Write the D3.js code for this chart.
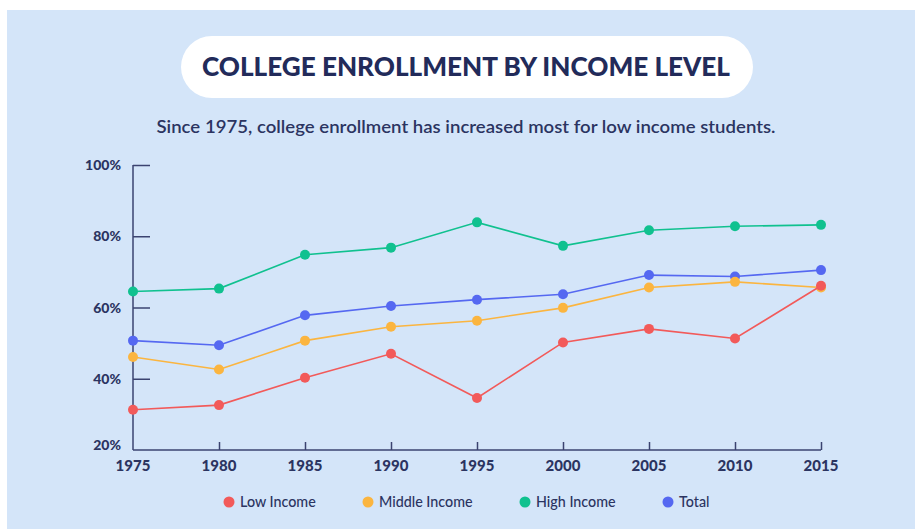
<!DOCTYPE html>
<html>
<head>
<meta charset="utf-8">
<script src="https://cdn.jsdelivr.net/npm/d3@7"></script>
<style>
  html, body { margin: 0; padding: 0; background: #ffffff; }
  svg { display: block; }
</style>
</head>
<body>
<div id="chart"></div>
<script>
// data
const years = [1975, 1980, 1985, 1990, 1995, 2000, 2005, 2010, 2015];
const lowIncome = [31.3, 32.6, 40.3, 47.0, 34.6, 50.2, 54.0, 51.3, 66.1];
const middleIncome = [46.1, 42.6, 50.7, 54.6, 56.3, 59.9, 65.6, 67.2, 65.6];
const highIncome = [64.5, 65.3, 74.8, 76.8, 83.9, 77.3, 81.7, 82.8, 83.2];
const total = [50.7, 49.4, 57.8, 60.4, 62.2, 63.7, 69.1, 68.7, 70.5];
const seriesNames = ["Low Income", "Middle Income", "High Income", "Total"];
const yTicks = [20, 40, 60, 80, 100];

const seriesColors = ["#f25a5a", "#fbb540", "#10c18f", "#5568f1"];
const navy = "#222b5a";

const W = 915, H = 529;
const svg = d3.select("#chart").append("svg")
    .attr("width", W)
    .attr("height", H);

// background panel
svg.append("rect")
    .attr("x", 7).attr("y", 10)
    .attr("width", W - 7).attr("height", H - 10)
    .attr("fill", "#d4e5f9");

// title pill
svg.append("rect")
    .attr("x", 181).attr("y", 36)
    .attr("width", 572).attr("height", 62)
    .attr("rx", 31).attr("ry", 31)
    .attr("fill", "#ffffff");

svg.append("text")
    .attr("x", 466).attr("y", 76)
    .attr("text-anchor", "middle")
    .attr("font-family", "Lato, sans-serif")
    .attr("font-weight", 900)
    .attr("font-size", 27)
    .attr("fill", navy)
    .attr("textLength", 528)
    .attr("lengthAdjust", "spacingAndGlyphs")
    .text("COLLEGE ENROLLMENT BY INCOME LEVEL");

svg.append("text")
    .attr("x", 466).attr("y", 133)
    .attr("text-anchor", "middle")
    .attr("font-family", "Lato, sans-serif")
    .attr("font-weight", 600)
    .attr("font-size", 17)
    .attr("fill", "#2b3461")
    .attr("textLength", 619)
    .attr("lengthAdjust", "spacingAndGlyphs")
    .text("Since 1975, college enrollment has increased most for low income students.");

// scales
const x = d3.scalePoint()
    .domain(years)
    .range([133, 821]);

const y = d3.scaleLinear()
    .domain([20, 100])
    .range([450, 165]);

const g = svg.append("g");

// y axis: ticks pointing into the plot
const yAxisG = g.append("g")
    .attr("transform", `translate(${x(years[0])},0)`)
    .call(d3.axisRight(y).tickValues(yTicks.slice(1)).tickSize(17).tickFormat(""));
yAxisG.select(".domain")
    .attr("d", `M0,${y(100)}V${y(20)}`);
yAxisG.selectAll("path, line")
    .attr("stroke", "#3b4370")
    .attr("stroke-width", 1.5);

// y labels
g.selectAll(".y-label")
    .data(yTicks)
    .join("text")
    .attr("class", "y-label")
    .attr("x", 121)
    .attr("y", d => y(d) + (d === 20 ? -0.5 : 5))
    .attr("text-anchor", "end")
    .attr("font-family", "Lato, sans-serif")
    .attr("font-weight", 900)
    .attr("font-size", 14)
    .attr("fill", "#2b3461")
    .text(d => d + "%");

// x axis: ticks pointing up
const xAxisG = g.append("g")
    .attr("transform", `translate(0,${y(20)})`)
    .call(d3.axisTop(x).tickSize(8).tickFormat(""));
xAxisG.select(".domain")
    .attr("d", `M${x(years[0])},0H${x(years[years.length - 1])}`);
xAxisG.selectAll("path, line")
    .attr("stroke", "#3b4370")
    .attr("stroke-width", 1.5);
xAxisG.selectAll(".tick").filter(d => d === years[0]).remove();

g.selectAll(".x-label")
    .data(years)
    .join("text")
    .attr("class", "x-label")
    .attr("x", d => x(d))
    .attr("y", 470.5)
    .attr("text-anchor", "middle")
    .attr("font-family", "Lato, sans-serif")
    .attr("font-weight", 900)
    .attr("font-size", 15)
    .attr("fill", "#2b3461")
    .text(d => d);

// lines and dots
const allSeries = [lowIncome, middleIncome, highIncome, total];
const drawOrder = [2, 3, 1, 0];

const line = d3.line()
    .x((d, i) => x(years[i]))
    .y(d => y(d));

drawOrder.forEach(k => {
    const vals = allSeries[k];
    const sg = g.append("g").attr("class", "series");
    sg.append("path")
        .datum(vals)
        .attr("fill", "none")
        .attr("stroke", seriesColors[k])
        .attr("stroke-width", 1.6)
        .attr("d", line);
    sg.selectAll("circle")
        .data(vals)
        .join("circle")
        .attr("cx", (d, i) => x(years[i]))
        .attr("cy", d => y(d))
        .attr("r", 5)
        .attr("fill", seriesColors[k]);
});

// legend
const legendX = [229, 368, 525, 668];
const legend = svg.append("g");
legend.selectAll(".legend-item")
    .data(seriesNames)
    .join("g")
    .attr("class", "legend-item")
    .attr("transform", (d, i) => `translate(${legendX[i]},502)`)
    .call(gg => gg.append("circle")
        .attr("r", 5.5)
        .attr("fill", (d, i) => seriesColors[i]))
    .call(gg => gg.append("text")
        .attr("x", 11)
        .attr("y", 5)
        .attr("font-family", "Lato, sans-serif")
        .attr("font-weight", 500)
        .attr("font-size", 14.3)
        .attr("fill", "#2b3461")
        .text(d => d));
</script>
</body>
</html>
